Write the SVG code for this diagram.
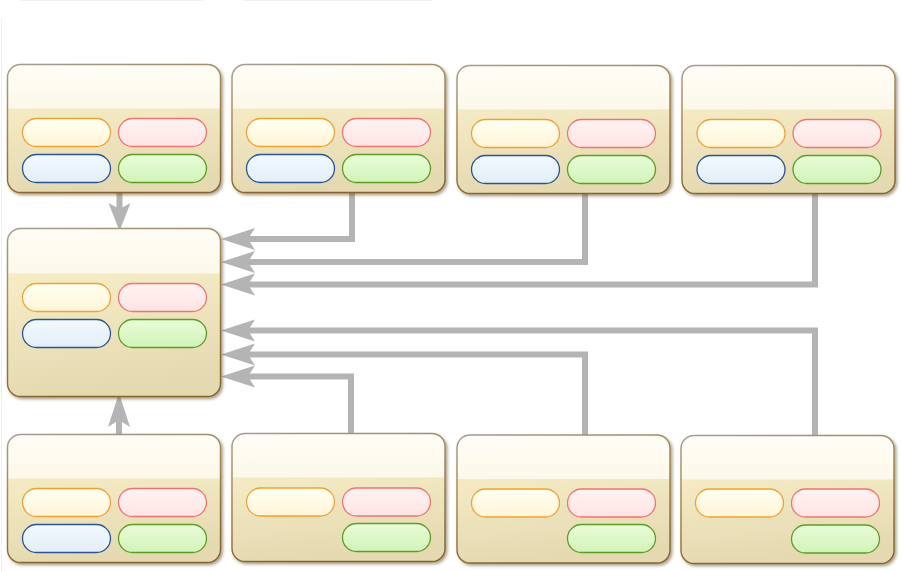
<svg xmlns="http://www.w3.org/2000/svg" xmlns:xlink="http://www.w3.org/1999/xlink" width="903" height="572" viewBox="0 0 903 572">
  <style>
    .edge { fill: none; stroke: #b4b4b4; stroke-width: 6; }
    .edge-h { marker-end: url(#arrow); }
    .pill { stroke-width: 1.3; }
    .p-yellow { fill: url(#gYellow); stroke: #efa232; }
    .p-red { fill: url(#gRed); stroke: #ee7474; }
    .p-blue { fill: url(#gBlue); stroke: #2a5392; }
    .p-green { fill: url(#gGreen); stroke: #5e9c26; }
    .faint { stroke: #f0f0f0; stroke-width: 1; fill: none; }
  </style>
  <defs>
    <filter id="shadow" x="-5%" y="-5%" width="112%" height="115%">
      <feDropShadow dx="1.8" dy="2" stdDeviation="1.5" flood-color="#5a4524" flood-opacity="0.5"/>
    </filter>
    <linearGradient id="gBody" x1="0" y1="0" x2="0.15" y2="1">
      <stop offset="0" stop-color="#f8f0cc"/>
      <stop offset="0.34" stop-color="#f4ebc4"/>
      <stop offset="1" stop-color="#e5d9b1"/>
    </linearGradient>
    <linearGradient id="gHead" x1="0" y1="0" x2="0" y2="1">
      <stop offset="0" stop-color="#fffdf6"/>
      <stop offset="1" stop-color="#fcf8e9"/>
    </linearGradient>
    <linearGradient id="gBorder" x1="0" y1="0" x2="0.3" y2="1">
      <stop offset="0" stop-color="#a39e95"/>
      <stop offset="0.45" stop-color="#a4834a"/>
      <stop offset="1" stop-color="#86652a"/>
    </linearGradient>
    <linearGradient id="gYellow" x1="0" y1="0" x2="0" y2="1">
      <stop offset="0" stop-color="#fffff2"/>
      <stop offset="1" stop-color="#fff5d8"/>
    </linearGradient>
    <linearGradient id="gRed" x1="0" y1="0" x2="0" y2="1">
      <stop offset="0" stop-color="#fff2f2"/>
      <stop offset="1" stop-color="#ffe4e4"/>
    </linearGradient>
    <linearGradient id="gBlue" x1="0" y1="0" x2="0" y2="1">
      <stop offset="0" stop-color="#f2f9ff"/>
      <stop offset="1" stop-color="#e2eef8"/>
    </linearGradient>
    <linearGradient id="gGreen" x1="0" y1="0" x2="0" y2="1">
      <stop offset="0" stop-color="#e8fdd8"/>
      <stop offset="1" stop-color="#d2f3b8"/>
    </linearGradient>
    <!-- card shapes: body, light header band, outline -->
    <g id="card">
      <rect x="0" y="0" width="213" height="128" rx="13" fill="url(#gBody)"/>
      <path d="M0.6,44 V13 A12.4,12.4 0 0 1 13,0.6 H200 A12.4,12.4 0 0 1 212.4,13 V44 Z" fill="url(#gHead)"/>
      <rect x="0" y="0" width="213" height="128" rx="13" fill="none" stroke="url(#gBorder)" stroke-width="1.4"/>
    </g>
    <g id="card-tall">
      <rect x="0" y="0" width="213" height="168" rx="13" fill="url(#gBody)"/>
      <path d="M0.6,45 V13 A12.4,12.4 0 0 1 13,0.6 H200 A12.4,12.4 0 0 1 212.4,13 V45 Z" fill="url(#gHead)"/>
      <rect x="0" y="0" width="213" height="168" rx="13" fill="none" stroke="url(#gBorder)" stroke-width="1.4"/>
    </g>
    <marker id="arrow" markerUnits="userSpaceOnUse" viewBox="0 0 34 24" markerWidth="34" markerHeight="24" refX="7" refY="12" orient="auto" overflow="visible">
      <path d="M0,1 L34,12 L0,23 L7,12 Z" fill="#b4b4b4"/>
    </marker>
    <marker id="arrow-short" markerUnits="userSpaceOnUse" viewBox="0 0 28 24" markerWidth="28" markerHeight="24" refX="6" refY="12" orient="auto" overflow="visible">
      <path d="M0,1 L28,12 L0,23 L6,12 Z" fill="#b4b4b4"/>
    </marker>
  </defs>

  <rect width="903" height="572" fill="#ffffff"/>
  <line class="faint" x1="20" y1="0.5" x2="203" y2="0.5"/>
  <line class="faint" x1="243" y1="0.5" x2="432" y2="0.5"/>
  <line class="faint" x1="1.5" y1="18" x2="1.5" y2="572" stroke="#f5f5f5"/>

  <!-- connectors -->
  <g id="connectors">
    <path class="edge" d="M119.5,193 V209" marker-end="url(#arrow-short)"/>
    <path class="edge edge-h" d="M352,193 V239 H248"/>
    <path class="edge edge-h" d="M585,194 V262 H248"/>
    <path class="edge edge-h" d="M815,194 V284.5 H248"/>
    <path class="edge edge-h" d="M815,436 V330.5 H248"/>
    <path class="edge edge-h" d="M585,435 V354.5 H248"/>
    <path class="edge edge-h" d="M351,433.5 V376.5 H248"/>
    <path class="edge edge-h" d="M119,434.5 V420"/>
  </g>

  <!-- top row -->
  <g id="node-1" transform="translate(7.5,64.5)">
    <use xlink:href="#card" filter="url(#shadow)"/>
    <rect class="pill p-yellow" x="15" y="54" width="88" height="28" rx="14"/>
    <rect class="pill p-red" x="111" y="54" width="88" height="28" rx="14"/>
    <rect class="pill p-blue" x="15" y="90" width="88" height="28" rx="14"/>
    <rect class="pill p-green" x="111" y="90" width="88" height="28" rx="14"/>
  </g>
  <g id="node-2" transform="translate(232,64.5)">
    <use xlink:href="#card" filter="url(#shadow)"/>
    <rect class="pill p-yellow" x="14.5" y="54" width="88" height="28" rx="14"/>
    <rect class="pill p-red" x="110.5" y="54" width="88" height="28" rx="14"/>
    <rect class="pill p-blue" x="14.5" y="90" width="88" height="28" rx="14"/>
    <rect class="pill p-green" x="110.5" y="90" width="88" height="28" rx="14"/>
  </g>
  <g id="node-3" transform="translate(457,65.5)">
    <use xlink:href="#card" filter="url(#shadow)"/>
    <rect class="pill p-yellow" x="14.5" y="54" width="88" height="28" rx="14"/>
    <rect class="pill p-red" x="110.5" y="54" width="88" height="28" rx="14"/>
    <rect class="pill p-blue" x="14.5" y="90" width="88" height="28" rx="14"/>
    <rect class="pill p-green" x="110.5" y="90" width="88" height="28" rx="14"/>
  </g>
  <g id="node-4" transform="translate(682,65.5)">
    <use xlink:href="#card" filter="url(#shadow)"/>
    <rect class="pill p-yellow" x="15" y="54" width="88" height="28" rx="14"/>
    <rect class="pill p-red" x="111" y="54" width="88" height="28" rx="14"/>
    <rect class="pill p-blue" x="15" y="90" width="88" height="28" rx="14"/>
    <rect class="pill p-green" x="111" y="90" width="88" height="28" rx="14"/>
  </g>

  <!-- central node -->
  <g id="node-center" transform="translate(7.5,228.5)">
    <use xlink:href="#card-tall" filter="url(#shadow)"/>
    <rect class="pill p-yellow" x="15" y="55" width="88" height="28" rx="14"/>
    <rect class="pill p-red" x="111" y="55" width="88" height="28" rx="14"/>
    <rect class="pill p-blue" x="15" y="91" width="88" height="28" rx="14"/>
    <rect class="pill p-green" x="111" y="91" width="88" height="28" rx="14"/>
  </g>

  <!-- bottom row -->
  <g id="node-5" transform="translate(7.5,434.5)">
    <use xlink:href="#card" filter="url(#shadow)"/>
    <rect class="pill p-yellow" x="15" y="54" width="88" height="28" rx="14"/>
    <rect class="pill p-red" x="111" y="54" width="88" height="28" rx="14"/>
    <rect class="pill p-blue" x="15" y="90" width="88" height="28" rx="14"/>
    <rect class="pill p-green" x="111" y="90" width="88" height="28" rx="14"/>
  </g>
  <g id="node-6" transform="translate(232,433.5)">
    <use xlink:href="#card" filter="url(#shadow)"/>
    <rect class="pill p-yellow" x="14.5" y="54.5" width="88" height="28" rx="14"/>
    <rect class="pill p-red" x="110.5" y="54.5" width="88" height="28" rx="14"/>
    <rect class="pill p-green" x="110.5" y="90" width="88" height="28" rx="14"/>
  </g>
  <g id="node-7" transform="translate(457,435)">
    <use xlink:href="#card" filter="url(#shadow)"/>
    <rect class="pill p-yellow" x="14.5" y="54" width="88" height="28" rx="14"/>
    <rect class="pill p-red" x="110.5" y="54" width="88" height="28" rx="14"/>
    <rect class="pill p-green" x="110.5" y="89.5" width="88" height="28" rx="14"/>
  </g>
  <g id="node-8" transform="translate(681,435.5)">
    <use xlink:href="#card" filter="url(#shadow)"/>
    <rect class="pill p-yellow" x="14.5" y="53.5" width="88" height="28" rx="14"/>
    <rect class="pill p-red" x="110.5" y="53.5" width="88" height="28" rx="14"/>
    <rect class="pill p-green" x="110.5" y="89.5" width="88" height="28" rx="14"/>
  </g>
</svg>
